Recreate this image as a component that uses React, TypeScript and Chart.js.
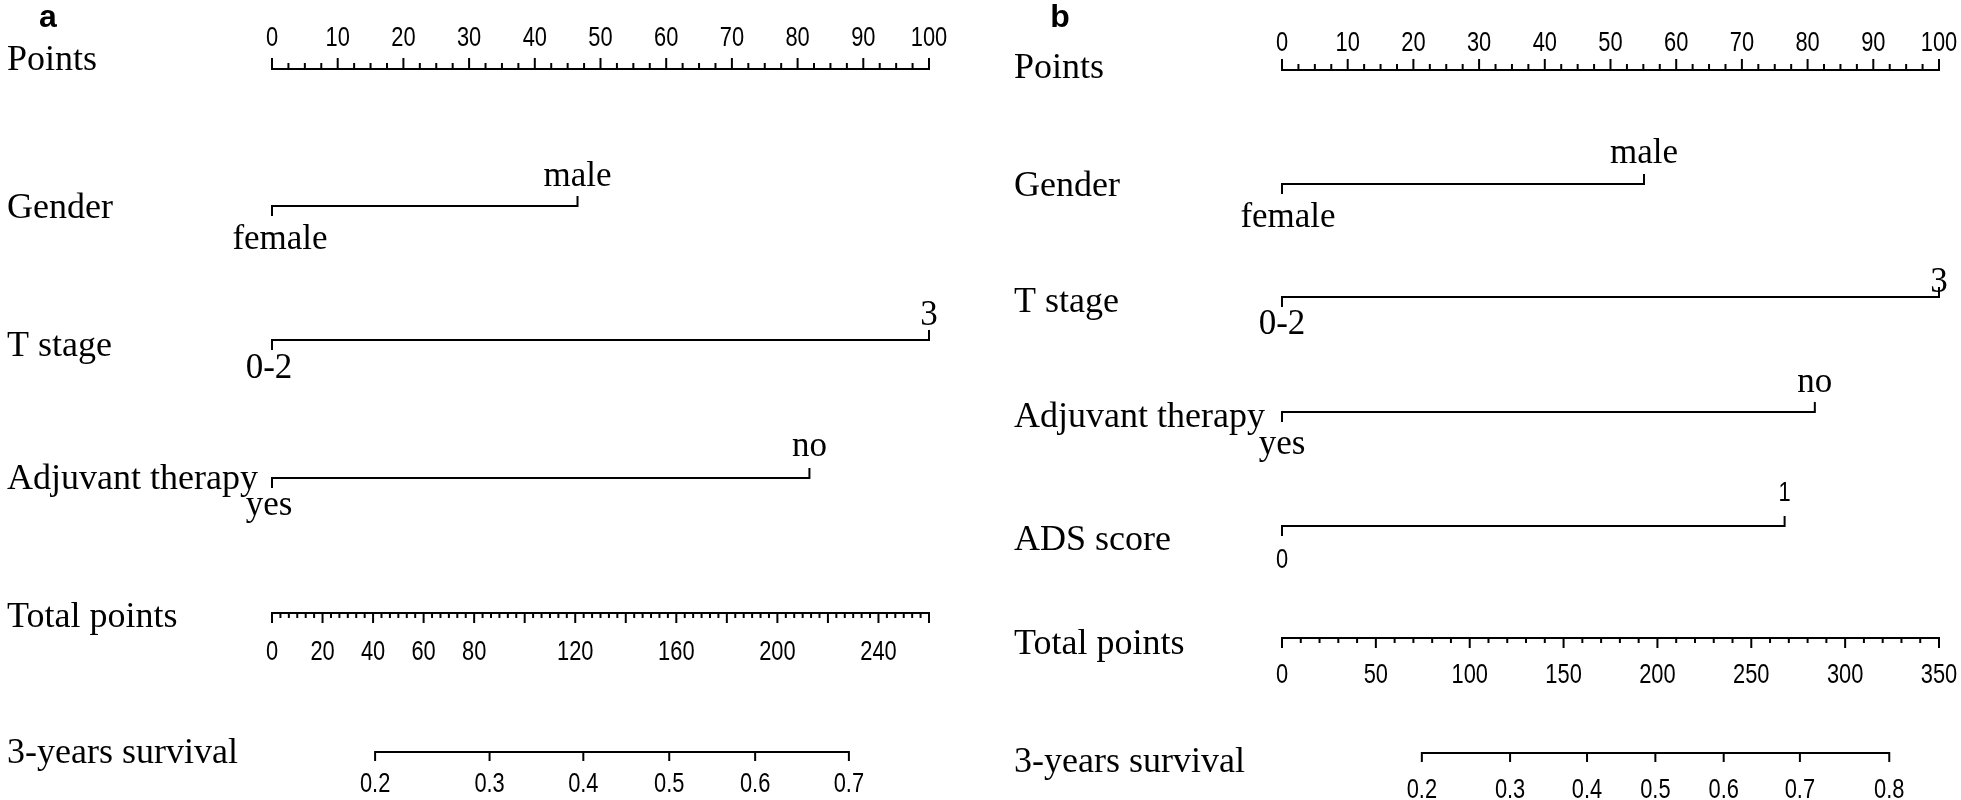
import React, { useEffect, useRef } from "react";
import { Chart, registerables } from "chart.js";

Chart.register(...registerables);

// ---------------- DATA ----------------
const pointTickLabels = [0, 10, 20, 30, 40, 50, 60, 70, 80, 90, 100];

// Panel a
const genderLevelsA = ["female", "male"];
const genderPointsA = [0, 46.5];
const tStageLevelsA = ["0-2", "3"];
const tStagePointsA = [0, 100];
const adjuvantLevelsA = ["yes", "no"];
const adjuvantPointsA = [0, 81.8];
const totalTickLabelsA = [0, 20, 40, 60, 80, 120, 160, 200, 240];
const totalMaxA = 260;
const survivalValuesA = [0.2, 0.3, 0.4, 0.5, 0.6, 0.7];
const survivalPositionsA = [40.8, 86.1, 123.2, 157.2, 191.2, 228.3];

// Panel b
const genderLevelsB = ["female", "male"];
const genderPointsB = [0, 55.1];
const tStageLevelsB = ["0-2", "3"];
const tStagePointsB = [0, 100];
const adjuvantLevelsB = ["yes", "no"];
const adjuvantPointsB = [0, 81.1];
const adsLevelsB = ["0", "1"];
const adsPointsB = [0, 76.5];
const totalTickLabelsB = [0, 50, 100, 150, 200, 250, 300, 350];
const totalMaxB = 350;
const survivalValuesB = [0.2, 0.3, 0.4, 0.5, 0.6, 0.7, 0.8];
const survivalPositionsB = [74.5, 121.5, 162.5, 198.9, 235.3, 275.9, 323.5];

// ---------------- LAYOUT / STYLE ----------------
const SERIF = '"Liberation Serif", "Times New Roman", serif';
const SANS = '"Liberation Sans", Arial, sans-serif';
const NAME_FONT = `36px ${SERIF}`;
const LEVEL_FONT = `35px ${SERIF}`;
const NUM_FONT = `28px ${SANS}`;
const NUM_SCALE = 0.78;

type Row = {
  name: string;
  levels: string[];
  points: number[];
  lineY: number;
  nameY: number;
  hiY: number;
  loY: number;
  loDx?: number;
  sansLevels?: boolean;
};

type Panel = {
  letter: string;
  letterX: number;
  left: number;
  width: number;
  padLeft: number;
  padRight: number;
  nameX: number;
  pointsAxisY: number;
  pointsTickLabelY: number;
  pointsNameY: number;
  rows: Row[];
  totalMax: number;
  totalMinorStep: number;
  totalMajorStep: number;
  totalLabels: number[];
  totalAxisY: number;
  totalNameY: number;
  totalTickLabelY: number;
  survValues: number[];
  survPositions: number[];
  survAxisY: number;
  survNameY: number;
  survTickLabelY: number;
};

const panelA: Panel = {
  letter: "a",
  letterX: 48,
  left: 0,
  width: 980,
  padLeft: 272,
  padRight: 980 - 929,
  nameX: 7,
  pointsAxisY: 69,
  pointsTickLabelY: 38,
  pointsNameY: 61,
  rows: [
    { name: "Gender", levels: genderLevelsA, points: genderPointsA, lineY: 206, nameY: 209, hiY: 177, loY: 240, loDx: 8 },
    { name: "T stage", levels: tStageLevelsA, points: tStagePointsA, lineY: 340, nameY: 347, hiY: 316, loY: 369, loDx: -3 },
    { name: "Adjuvant therapy", levels: adjuvantLevelsA, points: adjuvantPointsA, lineY: 478, nameY: 480, hiY: 447, loY: 506, loDx: -3 },
  ],
  totalMax: totalMaxA,
  totalMinorStep: 20 / 6,
  totalMajorStep: 20,
  totalLabels: totalTickLabelsA,
  totalAxisY: 613,
  totalNameY: 618,
  totalTickLabelY: 652,
  survValues: survivalValuesA,
  survPositions: survivalPositionsA,
  survAxisY: 752,
  survNameY: 754,
  survTickLabelY: 784,
};

const panelB: Panel = {
  letter: "b",
  letterX: 1060 - 980,
  left: 980,
  width: 981,
  padLeft: 1282 - 980,
  padRight: 1961 - 1939,
  nameX: 1014 - 980,
  pointsAxisY: 70,
  pointsTickLabelY: 43,
  pointsNameY: 69,
  rows: [
    { name: "Gender", levels: genderLevelsB, points: genderPointsB, lineY: 184, nameY: 187, hiY: 154, loY: 218, loDx: 6 },
    { name: "T stage", levels: tStageLevelsB, points: tStagePointsB, lineY: 297, nameY: 303, hiY: 283, loY: 325 },
    { name: "Adjuvant therapy", levels: adjuvantLevelsB, points: adjuvantPointsB, lineY: 412, nameY: 418, hiY: 383, loY: 445 },
    { name: "ADS score", levels: adsLevelsB, points: adsPointsB, lineY: 526, nameY: 541, hiY: 493, loY: 560, sansLevels: true },
  ],
  totalMax: totalMaxB,
  totalMinorStep: 10,
  totalMajorStep: 50,
  totalLabels: totalTickLabelsB,
  totalAxisY: 638,
  totalNameY: 645,
  totalTickLabelY: 675,
  survValues: survivalValuesB,
  survPositions: survivalPositionsB,
  survAxisY: 753,
  survNameY: 763,
  survTickLabelY: 790,
};

function drawNum(ctx: CanvasRenderingContext2D, text: string, x: number, y: number) {
  ctx.save();
  ctx.font = NUM_FONT;
  ctx.textAlign = "center";
  ctx.textBaseline = "middle";
  ctx.translate(x, y);
  ctx.scale(NUM_SCALE, 1);
  ctx.fillText(text, 0, 0);
  ctx.restore();
}

function drawText(ctx: CanvasRenderingContext2D, text: string, x: number, y: number, font: string, align: CanvasTextAlign) {
  ctx.save();
  ctx.font = font;
  ctx.textAlign = align;
  ctx.textBaseline = "middle";
  ctx.fillText(text, x, y);
  ctx.restore();
}

function makePlugin(p: Panel) {
  return {
    id: "nomogram",
    afterDatasetsDraw(chart: any) {
      const ctx: CanvasRenderingContext2D = chart.ctx;
      const xs = chart.scales.x;
      const xt = chart.scales.xt;
      ctx.save();
      ctx.strokeStyle = "#000";
      ctx.fillStyle = "#000";
      ctx.lineWidth = 2;
      ctx.lineCap = "butt";

      const vline = (x: number, y1: number, y2: number) => {
        ctx.beginPath();
        ctx.moveTo(x, y1);
        ctx.lineTo(x, y2);
        ctx.stroke();
      };

      // panel letter
      drawText(ctx, p.letter, p.letterX, 18, `bold 32px ${SANS}`, "center");

      // Points axis
      for (let i = 0; i <= 40; i++) {
        const v = i * 2.5;
        const x = xs.getPixelForValue(v);
        vline(x, p.pointsAxisY + 1, p.pointsAxisY - (i % 4 === 0 ? 11 : 6));
      }
      pointTickLabels.forEach((v) => drawNum(ctx, String(v), xs.getPixelForValue(v), p.pointsTickLabelY));
      drawText(ctx, "Points", p.nameX, p.pointsNameY, NAME_FONT, "left");

      // variable rows
      p.rows.forEach((r) => {
        const x0 = xs.getPixelForValue(r.points[0]);
        const x1 = xs.getPixelForValue(r.points[r.points.length - 1]);
        vline(x0, r.lineY - 1, r.lineY + 10);
        vline(x1, r.lineY + 1, r.lineY - 10);
        drawText(ctx, r.name, p.nameX, r.nameY, NAME_FONT, "left");
        const dx = r.loDx || 0;
        if (r.sansLevels) {
          drawNum(ctx, r.levels[0], x0 + dx, r.loY);
          drawNum(ctx, r.levels[1], x1, r.hiY);
        } else {
          drawText(ctx, r.levels[0], x0 + dx, r.loY, LEVEL_FONT, "center");
          drawText(ctx, r.levels[1], x1, r.hiY, LEVEL_FONT, "center");
        }
      });

      // Total points axis
      const nMinor = Math.round(p.totalMax / p.totalMinorStep);
      const perMajor = Math.round(p.totalMajorStep / p.totalMinorStep);
      for (let i = 0; i <= nMinor; i++) {
        const v = i * p.totalMinorStep;
        const x = xt.getPixelForValue(v);
        vline(x, p.totalAxisY - 1, p.totalAxisY + (i % perMajor === 0 ? 10 : 5));
      }
      p.totalLabels.forEach((v) => drawNum(ctx, String(v), xt.getPixelForValue(v), p.totalTickLabelY));
      drawText(ctx, "Total points", p.nameX, p.totalNameY, NAME_FONT, "left");

      // survival axis
      p.survPositions.forEach((pos, i) => {
        const x = xt.getPixelForValue(pos);
        vline(x, p.survAxisY - 1, p.survAxisY + 9);
        drawNum(ctx, p.survValues[i].toFixed(1), x, p.survTickLabelY);
      });
      drawText(ctx, "3-years survival", p.nameX, p.survNameY, NAME_FONT, "left");

      ctx.restore();
    },
  };
}

function buildConfig(p: Panel): any {
  const lineDs = (pts: { x: number; y: number }[], axis: string) => ({
    data: pts,
    showLine: true,
    borderColor: "#000",
    borderWidth: 2,
    pointRadius: 0,
    pointHoverRadius: 0,
    xAxisID: axis,
    yAxisID: "y",
  });
  const datasets: any[] = [];
  datasets.push(lineDs([{ x: 0, y: p.pointsAxisY }, { x: 100, y: p.pointsAxisY }], "x"));
  p.rows.forEach((r) => {
    datasets.push(lineDs(r.points.map((v) => ({ x: v, y: r.lineY })), "x"));
  });
  datasets.push(lineDs([{ x: 0, y: p.totalAxisY }, { x: p.totalMax, y: p.totalAxisY }], "xt"));
  datasets.push(
    lineDs(
      [
        { x: p.survPositions[0], y: p.survAxisY },
        { x: p.survPositions[p.survPositions.length - 1], y: p.survAxisY },
      ],
      "xt"
    )
  );
  return {
    type: "scatter",
    data: { datasets },
    options: {
      animation: false,
      responsive: false,
      devicePixelRatio: 1,
      layout: { padding: { left: p.padLeft, right: p.padRight, top: 0, bottom: 0 } },
      plugins: { legend: { display: false }, tooltip: { enabled: false } },
      events: [],
      scales: {
        x: { type: "linear", min: 0, max: 100, display: false },
        xt: { type: "linear", min: 0, max: p.totalMax, display: false },
        y: { type: "linear", min: 0, max: 800, reverse: true, display: false },
      },
    },
    plugins: [makePlugin(p)],
  };
}

function PanelChart({ panel }: { panel: Panel }) {
  const ref = useRef<HTMLCanvasElement | null>(null);
  useEffect(() => {
    if (!ref.current) return;
    const chart = new Chart(ref.current, buildConfig(panel));
    return () => chart.destroy();
  }, [panel]);
  return (
    <canvas
      ref={ref}
      width={panel.width}
      height={800}
      style={{ position: "absolute", left: panel.left, top: 0, width: panel.width, height: 800 }}
    />
  );
}

export default function App() {
  useEffect(() => {
    document.body.style.margin = "0";
    document.body.style.background = "#fff";
  }, []);
  return (
    <div style={{ position: "relative", width: 1961, height: 800, background: "#fff", overflow: "hidden" }}>
      <PanelChart panel={panelA} />
      <PanelChart panel={panelB} />
    </div>
  );
}
